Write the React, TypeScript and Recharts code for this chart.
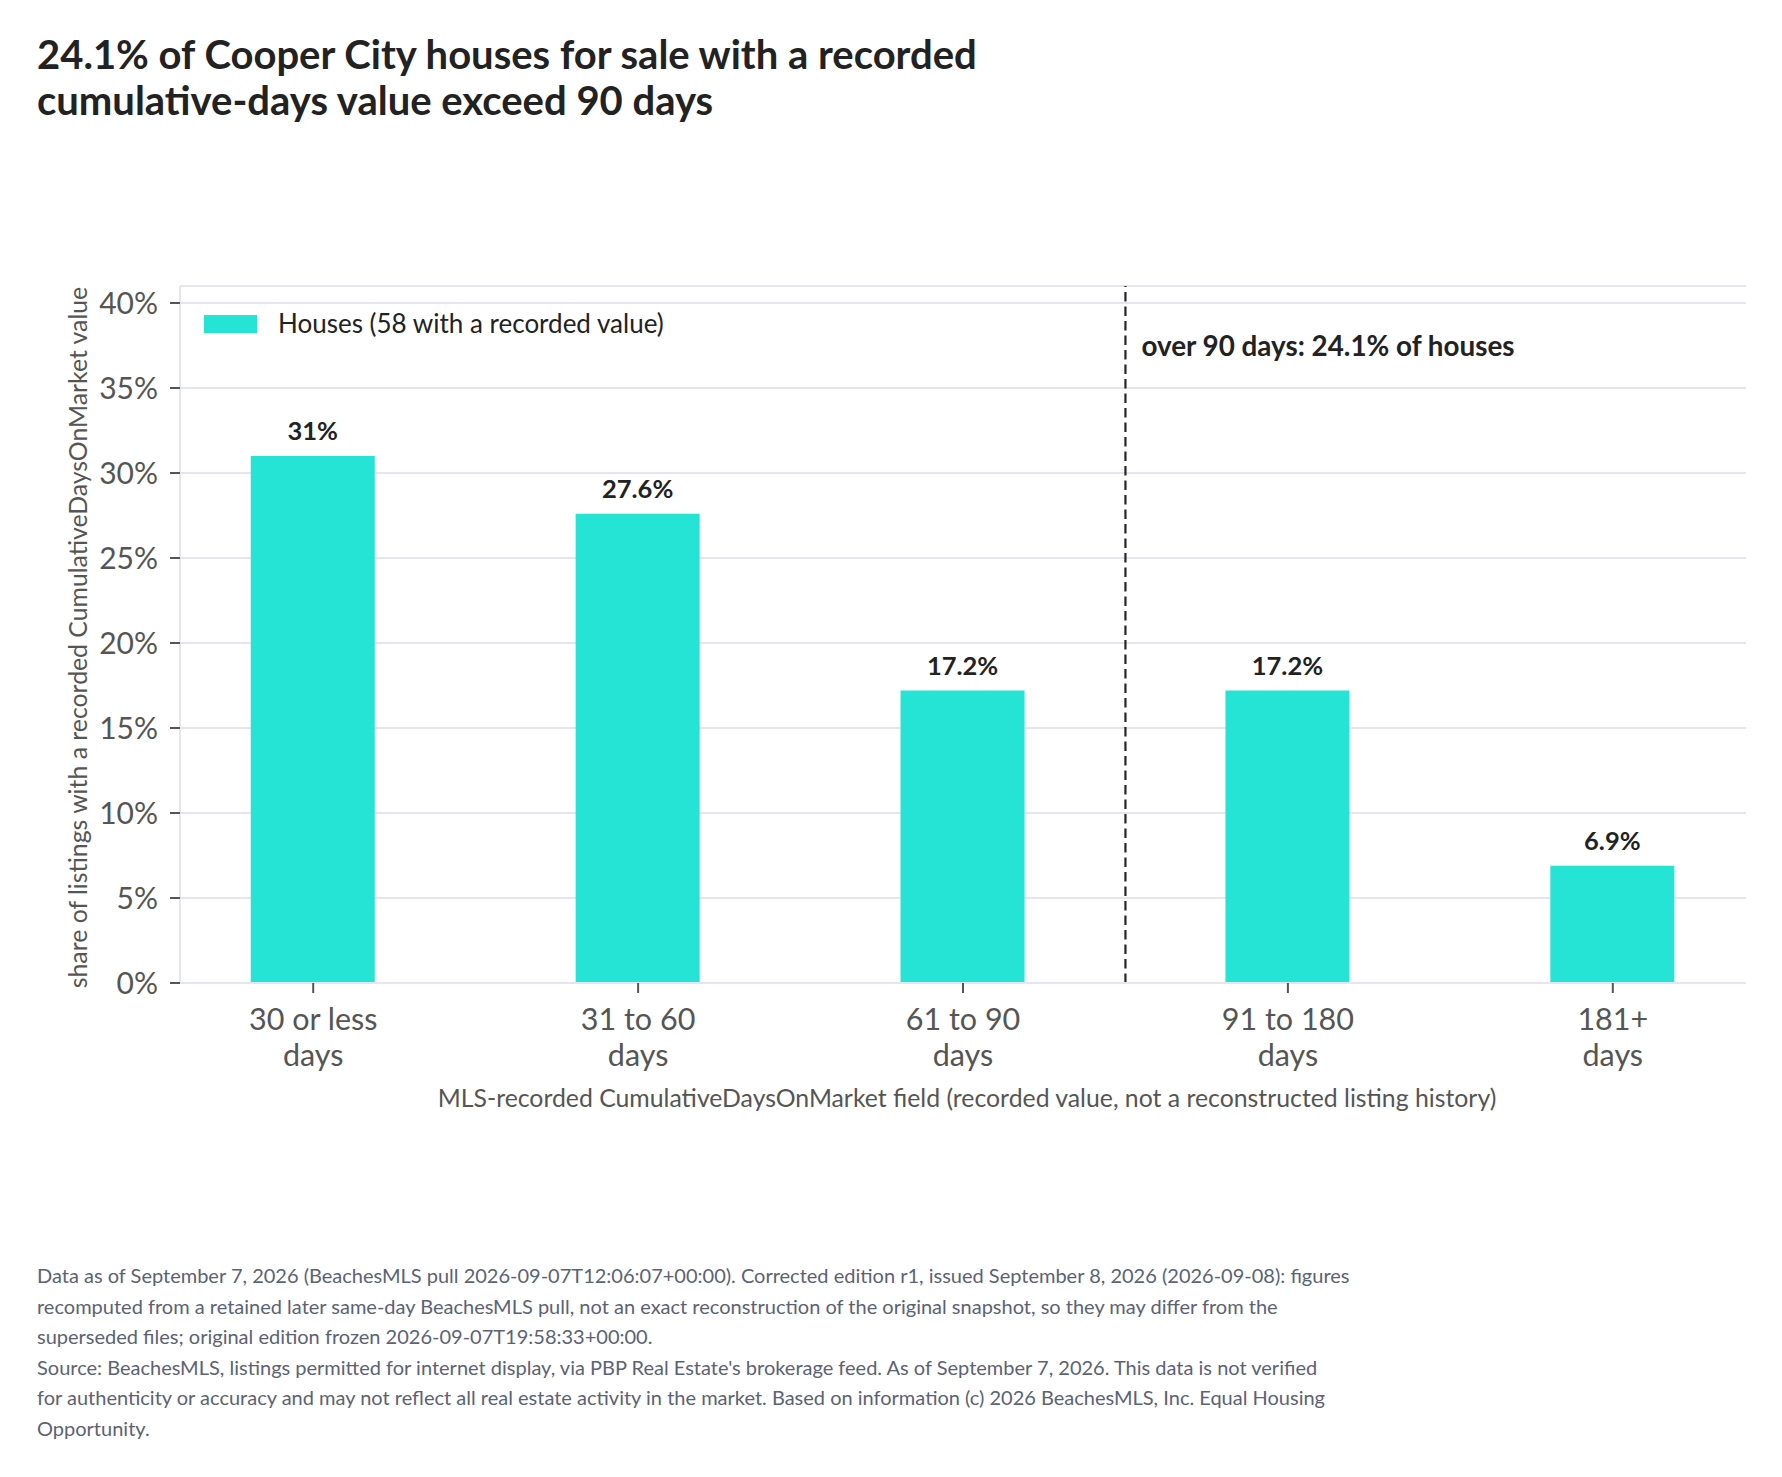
import React from "react";
import {
  BarChart,
  Bar,
  XAxis,
  YAxis,
  CartesianGrid,
  ReferenceLine,
  LabelList,
} from "recharts";

// bucket positions on the x axis and their two-line labels
const bucketIndex = [0, 1, 2, 3, 4];
const bucketLabels = [
  ["30 or less", "days"],
  ["31 to 60", "days"],
  ["61 to 90", "days"],
  ["91 to 180", "days"],
  ["181+", "days"],
];
// share of houses in each bucket, percent
const houseShare = [31, 27.6, 17.2, 17.2, 6.9];
const yTicks = [0, 5, 10, 15, 20, 25, 30, 35, 40];
// the 90-day split sits between "61 to 90" and "91 to 180"
const splitAt = 2.5;

const seriesName = "Houses (58 with a recorded value)";
const annotationText = "over 90 days: 24.1% of houses";
const titleLines = [
  "24.1% of Cooper City houses for sale with a recorded",
  "cumulative-days value exceed 90 days",
];
const footerLines = [
  "Data as of September 7, 2026 (BeachesMLS pull 2026-09-07T12:06:07+00:00). Corrected edition r1, issued September 8, 2026 (2026-09-08): figures",
  "recomputed from a retained later same-day BeachesMLS pull, not an exact reconstruction of the original snapshot, so they may differ from the",
  "superseded files; original edition frozen 2026-09-07T19:58:33+00:00.",
  "Source: BeachesMLS, listings permitted for internet display, via PBP Real Estate's brokerage feed. As of September 7, 2026. This data is not verified",
  "for authenticity or accuracy and may not reflect all real estate activity in the market. Based on information (c) 2026 BeachesMLS, Inc. Equal Housing",
  "Opportunity.",
];

const data = bucketIndex.map((i) => ({ pos: i, share: houseShare[i] }));

const FONT = "Lato, 'Open Sans', sans-serif";
const BAR = "#26e4d5";
const GRID = "#e3e5f0";
const INK = "#222222";
const AXIS_TEXT = "#555555";

const XTick = (props: any) => {
  const { x, y, payload } = props;
  const lines = bucketLabels[payload.value] ?? [];
  return (
    <g>
      {lines.map((line, k) => (
        <text
          key={k}
          x={x}
          y={y + 37 + k * 36}
          textAnchor="middle"
          fill={AXIS_TEXT}
          fontSize={30.5}
          fontFamily={FONT}
        >
          {line}
        </text>
      ))}
    </g>
  );
};

const YTitle = (props: any) => {
  const vb = props.viewBox;
  const cx = vb.x + 7;
  const cy = vb.y + vb.height / 2 + 3;
  return (
    <text
      x={cx}
      y={cy}
      transform={`rotate(-90, ${cx}, ${cy})`}
      textAnchor="middle"
      fill={AXIS_TEXT}
      fontSize={24.8}
      fontFamily={FONT}
    >
      share of listings with a recorded CumulativeDaysOnMarket value
    </text>
  );
};

const XTitle = (props: any) => {
  const vb = props.viewBox;
  return (
    <text
      x={vb.x + vb.width / 2 + 4}
      y={vb.y + 124}
      textAnchor="middle"
      fill={AXIS_TEXT}
      fontSize={24.8}
      fontFamily={FONT}
    >
      MLS-recorded CumulativeDaysOnMarket field (recorded value, not a reconstructed listing history)
    </text>
  );
};

const Annotation = (props: any) => {
  const vb = props.viewBox;
  return (
    <text
      x={vb.x + 16}
      y={vb.y + 70}
      fill={INK}
      fontSize={27.8}
      fontWeight={700}
      fontFamily={FONT}
    >
      {annotationText}
    </text>
  );
};

export default function App() {
  return (
    <div
      style={{
        position: "absolute",
        left: 0,
        top: 0,
        width: 1782,
        height: 1477,
        background: "#fff",
        fontFamily: FONT,
        overflow: "hidden",
      }}
    >
      <div
        style={{
          position: "absolute",
          left: 37,
          top: 31,
          fontSize: 40,
          fontWeight: 700,
          lineHeight: "46px",
          color: INK,
          whiteSpace: "nowrap",
        }}
      >
        {titleLines.map((t) => (
          <div key={t}>{t}</div>
        ))}
      </div>

      <BarChart
        width={1782}
        height={1477}
        data={data}
        margin={{ top: 286, right: 36, left: 80, bottom: 364 }}
      >
        <CartesianGrid horizontal vertical={false} stroke={GRID} strokeWidth={2} />
        <XAxis
          dataKey="pos"
          type="number"
          domain={[-0.41, 4.41]}
          ticks={bucketIndex}
          interval={0}
          allowDataOverflow
          height={130}
          tickSize={10}
          tickMargin={0}
          tick={<XTick />}
          tickLine={{ stroke: AXIS_TEXT, strokeWidth: 2 }}
          axisLine={{ stroke: GRID, strokeWidth: 2 }}
          label={{ content: XTitle }}
        />
        <YAxis
          type="number"
          domain={[0, 41]}
          ticks={yTicks}
          interval={0}
          allowDataOverflow
          width={100}
          tickSize={10}
          tickMargin={12}
          tickFormatter={(v: number) => `${v}%`}
          tick={{ fill: AXIS_TEXT, fontSize: 30, fontFamily: FONT }}
          tickLine={{ stroke: AXIS_TEXT, strokeWidth: 2 }}
          axisLine={{ stroke: GRID, strokeWidth: 2 }}
          label={{ content: YTitle }}
        />
        <Bar dataKey="share" name={seriesName} fill={BAR} barSize={124} isAnimationActive={false}>
          <LabelList
            dataKey="share"
            position="top"
            offset={16}
            formatter={(v: any) => `${v}%`}
            fill={INK}
            fontSize={25.5}
            fontWeight={700}
            fontFamily={FONT}
          />
        </Bar>
        <ReferenceLine
          x={splitAt}
          stroke="#262626"
          strokeWidth={2.2}
          strokeDasharray="9.5 5"
          label={{ content: Annotation }}
        />
      </BarChart>

      {/* legend sits inside the plot, top-left */}
      <div
        style={{
          position: "absolute",
          left: 204,
          top: 310,
          display: "flex",
          alignItems: "center",
          fontSize: 26,
          lineHeight: "26px",
          color: INK,
          whiteSpace: "nowrap",
        }}
      >
        <span style={{ display: "inline-block", width: 53, height: 18, background: BAR, marginRight: 21, marginTop: 2 }} />
        {seriesName}
      </div>

      <div
        style={{
          position: "absolute",
          left: 37,
          top: 1260,
          fontSize: 20,
          lineHeight: "30.5px",
          color: "#5b6275",
          whiteSpace: "nowrap",
        }}
      >
        {footerLines.map((t) => (
          <div key={t}>{t}</div>
        ))}
      </div>
    </div>
  );
}
